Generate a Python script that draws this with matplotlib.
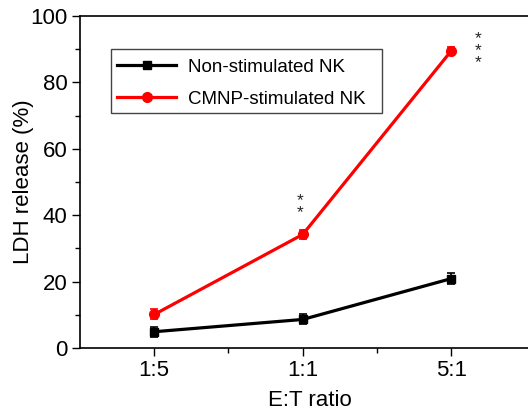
import matplotlib
matplotlib.use("Agg")
import matplotlib.pyplot as plt
from matplotlib.ticker import MultipleLocator
from matplotlib.lines import Line2D
from matplotlib.patches import Rectangle

categories = ["1:5", "1:1", "5:1"]
non_stim = [4.9, 8.6, 20.9]
non_stim_err = [1.5, 1.5, 1.6]
cmnp_stim = [10.1, 34.2, 89.5]
cmnp_stim_err = [1.5, 1.4, 1.3]
sig_labels = ["", "**", "***"]

plt.rcParams['font.family'] = ['Liberation Sans', 'DejaVu Sans']

fig = plt.figure(figsize=(5.28, 4.13), dpi=100)
ax = fig.add_axes([80/528, 65/413, 460/528, 332/413])

x = [1, 2, 3]
ax.errorbar(x, non_stim, yerr=non_stim_err, color='black', lw=2.3, marker='s',
            ms=6, capsize=3, elinewidth=1.2, capthick=1.2, zorder=3)
ax.errorbar(x, cmnp_stim, yerr=cmnp_stim_err, color='#ff0000', lw=2.3, marker='o',
            ms=7, capsize=3, elinewidth=1.2, capthick=1.2, zorder=3)

# significance stars, stacked vertically (position of top star)
star_pos = {"**": (1.983, 46.6), "***": (3.18, 95.4)}
for s in sig_labels:
    if s:
        sx, sy = star_pos[s]
        ax.text(sx, sy, "\n".join(s), ha='center', va='top', fontsize=12.5,
                color='#222222', linespacing=0.76)

ax.set_xlim(0.5, 0.5 + 460/148.5)
ax.set_ylim(0, 100)
ax.set_xticks(x)
ax.set_xticklabels(categories)
ax.set_xticks([1.5, 2.5], minor=True)
ax.yaxis.set_major_locator(MultipleLocator(20))
ax.yaxis.set_minor_locator(MultipleLocator(10))
ax.tick_params(which='major', direction='out', length=6, width=1, labelsize=16, pad=3)
ax.tick_params(which='minor', direction='out', length=3.5, width=1)
for sp in ['top', 'left', 'bottom', 'right']:
    ax.spines[sp].set_linewidth(1.2)

ax.set_xlabel("E:T ratio", fontsize=16, labelpad=6)
ax.set_ylabel("LDH release (%)", fontsize=16, labelpad=-2.5)

handles = [Line2D([], [], color='black', lw=2.3, marker='s', ms=6),
           Line2D([], [], color='#ff0000', lw=2.3, marker='o', ms=7)]
labels = ['Non-stimulated NK', 'CMNP-stimulated NK']
leg = ax.legend(handles, labels, loc='center left',
                bbox_to_anchor=((117-80)/460, 1 - (83-16)/332), fontsize=13.5,
                frameon=False, handlelength=3.15, borderpad=0, borderaxespad=0,
                labelspacing=0.8, handletextpad=0.64)
ax.add_patch(Rectangle(((110.7-80)/460, 1 - (113-16)/332), (382-110.7)/460, 64/332,
                       transform=ax.transAxes, fill=False, edgecolor='#444444',
                       lw=1.0, zorder=2))

fig.savefig("out.png", dpi=100)
